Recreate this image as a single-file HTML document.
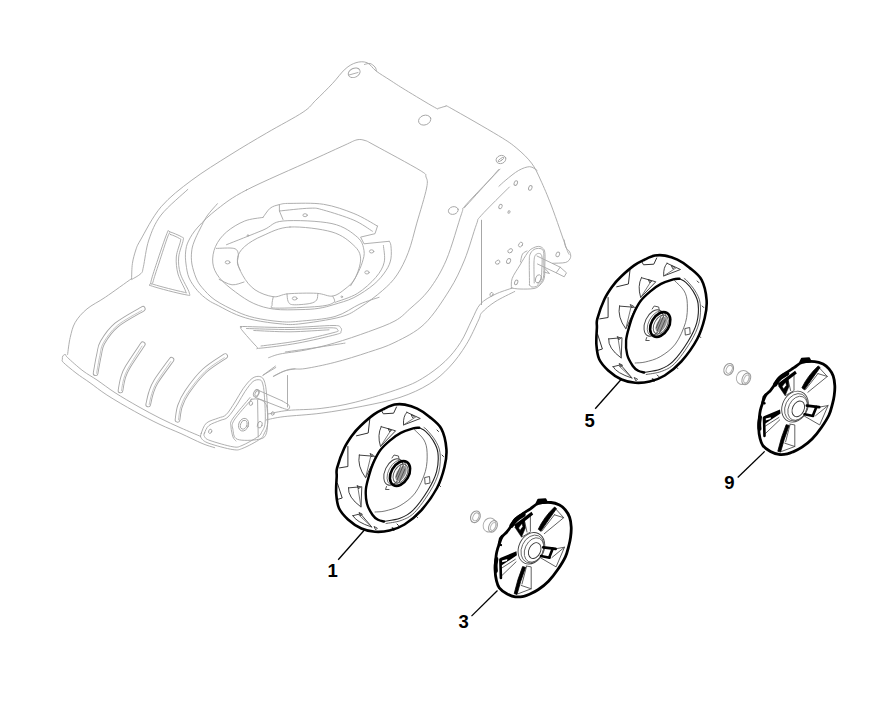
<!DOCTYPE html>
<html><head><meta charset="utf-8"><style>
html,body{margin:0;padding:0;background:#fff;width:876px;height:713px;overflow:hidden}
svg{display:block}
text{font-family:"Liberation Sans",sans-serif;font-weight:bold}
</style></head><body>
<svg width="876" height="713" viewBox="0 0 876 713">
<g fill="none" stroke="#a6a6a6" stroke-width="0.9" stroke-linecap="round" stroke-linejoin="round">
<path d="M131.6 278.6 C131.7 276.1 131.7 268.3 132.4 263.5 C133.1 258.7 134.5 253.9 135.8 250.0 C137.2 246.1 136.3 247.2 140.5 240.0 C144.7 232.8 152.5 216.8 161.1 206.8 C169.7 196.8 180.4 188.7 191.9 180.1 C203.4 171.5 217.6 162.8 230.0 155.0 C242.4 147.2 254.3 140.2 266.5 133.1 C278.7 125.9 294.9 117.6 303.1 112.1 C311.3 106.6 310.9 104.9 315.8 100.2 C320.7 95.5 327.4 88.9 332.3 83.7 C337.2 78.5 341.2 72.6 345.1 69.1 C349.1 65.6 352.4 63.8 356.0 62.7 C359.6 61.6 363.6 61.3 367.0 62.7 C370.4 64.1 372.3 68.1 376.1 71.0 C379.9 73.9 385.1 76.9 390.0 80.1 C394.9 83.3 398.1 85.5 405.5 90.0 C412.9 94.5 429.2 104.4 434.7 107.4 C440.2 110.5 436.6 108.5 438.4 108.3 C440.2 108.1 443.6 106.4 445.7 106.4 C447.8 106.4 442.3 103.4 451.1 108.3 C459.9 113.2 487.6 129.0 498.6 135.7 C509.6 142.4 511.4 143.8 516.9 148.4 C522.4 153.0 527.5 157.8 531.5 163.1 C535.5 168.4 537.3 172.8 540.6 180.0 C543.9 187.2 547.1 194.5 551.5 206.0 C555.9 217.5 563.8 241.0 566.7 249.0 C569.7 257.0 568.8 253.2 569.2 254.0"/>
<path d="M131.6 278.6 C127.2 281.7 112.9 292.1 105.5 297.1 C98.1 302.2 92.0 304.7 87.0 308.9 C82.0 313.1 78.0 317.6 75.2 322.4 C72.4 327.2 71.5 332.2 70.2 337.5 C68.9 342.8 68.0 351.6 67.6 354.4"/>
<path d="M187.8 189.4 C183.4 193.7 167.6 206.6 161.1 215.0 C154.6 223.4 151.8 231.4 148.8 240.0 C145.9 248.6 144.7 261.2 143.4 266.8 C142.1 272.4 142.9 271.5 140.9 273.6 C138.9 275.7 133.2 278.5 131.6 279.5"/>
<path d="M246.5 190.0 C262.3 181.8 295.8 167.5 312.2 160.0 C328.6 152.5 337.5 148.4 345.0 145.0 C352.5 141.6 353.7 140.6 357.0 139.8 C360.3 139.1 362.0 139.6 365.0 140.5 C368.0 141.4 365.8 140.5 375.0 145.5 C384.2 150.5 411.6 165.2 420.1 170.4 C428.6 175.7 424.9 174.1 426.0 177.0 C427.1 179.9 428.1 180.3 426.6 188.0 C425.1 195.7 419.9 212.4 416.8 223.1 C413.8 233.8 411.6 243.8 408.3 252.4 C405.0 261.0 401.3 268.5 397.0 274.9 C392.7 281.3 388.6 285.2 382.4 290.6 C376.2 296.0 367.0 303.0 360.0 307.4 C353.0 311.8 350.7 314.2 340.5 317.0 C330.3 319.8 308.8 322.9 298.7 324.0 C288.6 325.1 287.3 324.4 280.0 323.8 C272.7 323.2 262.1 321.7 254.8 320.2 C247.6 318.7 242.6 317.1 236.5 314.7 C230.4 312.3 223.1 308.1 218.3 305.6 C213.6 303.2 211.5 302.5 208.0 300.0 C204.5 297.5 200.7 294.4 197.5 290.7 C194.3 287.0 191.0 282.4 189.1 278.0 C187.2 273.6 186.6 268.3 186.0 264.0 C185.4 259.7 185.2 255.8 185.6 252.0 C186.0 248.2 186.4 245.2 188.5 241.0 C190.6 236.8 193.2 232.3 198.0 227.0 C202.8 221.7 209.3 215.2 217.4 209.0 C225.5 202.8 230.7 198.2 246.5 190.0Z"/>
<path d="M217.4 203.7 C215.7 205.8 209.9 211.8 207.0 216.0 C204.1 220.2 202.2 224.7 200.0 229.0 C197.8 233.3 195.4 238.2 194.0 242.0 C192.6 245.8 191.9 248.3 191.6 252.0 C191.2 255.7 191.2 259.7 191.9 264.0 C192.7 268.3 194.4 274.1 196.1 278.0 C197.8 281.9 198.8 283.8 202.0 287.5 C205.2 291.2 209.2 296.0 215.0 300.0 C220.8 304.0 229.9 308.5 236.5 311.5 C243.1 314.5 247.6 316.1 254.8 317.8 C262.1 319.5 272.7 321.0 280.0 321.6 C287.3 322.2 289.5 322.2 298.7 321.3 C307.9 320.4 324.8 319.4 335.0 316.5 C345.2 313.6 352.6 307.2 360.0 304.0 C367.4 300.8 375.9 298.4 379.1 297.3"/>
<path d="M263.0 217.4 C259.9 218.0 250.8 218.6 244.7 221.0 C238.6 223.4 231.4 227.8 226.5 232.0 C221.6 236.2 217.8 241.3 215.5 246.5 C213.2 251.7 212.2 257.8 212.8 263.0 C213.4 268.2 215.4 272.6 219.2 277.5 C223.0 282.4 229.8 287.8 235.6 292.1 C241.4 296.4 247.3 300.6 253.8 303.5 C260.3 306.4 266.7 308.2 274.4 309.2 C282.1 310.2 292.6 309.8 300.0 309.6 C307.4 309.5 313.2 309.2 318.9 308.3 C324.6 307.4 328.2 306.3 334.0 304.5 C339.8 302.7 347.2 301.0 353.9 297.6 C360.6 294.2 368.8 288.7 374.1 284.2 C379.4 279.7 383.1 274.9 385.9 270.7 C388.7 266.5 390.1 263.1 390.9 258.9 C391.7 254.7 391.2 248.4 390.9 245.5 C390.6 242.6 389.5 242.0 389.2 241.3"/>
<path d="M389.2 241.3 L364.0 243.8 L360.6 237.1 L375.0 233.7 L377.5 226.1"/>
<path d="M377.5 226.1 C373.6 224.0 362.9 217.1 353.9 213.5 C344.9 209.9 334.2 206.0 323.6 204.3 C313.0 202.6 297.4 203.4 290.0 203.4 C282.6 203.4 282.7 203.8 279.4 204.6 C276.1 205.4 272.9 206.1 270.2 208.2 C267.5 210.3 264.2 215.9 263.0 217.4"/>
<path d="M279.4 211.0 C284.5 210.5 302.6 208.3 310.0 208.2 C317.4 208.0 316.3 208.1 323.6 210.1 C330.9 212.1 345.8 216.7 353.9 220.2 C362.0 223.7 369.3 229.4 372.4 231.2"/>
<path d="M279.4 204.6 L279.4 211.0 L283.0 219.5"/>
<path d="M226.5 244.7 C232.6 242.3 253.6 234.0 263.0 230.1 C272.4 226.2 271.5 222.1 283.0 221.0 C294.5 219.9 319.6 220.9 332.0 223.6 C344.4 226.3 352.0 232.6 357.3 237.1 C362.6 241.6 363.2 246.3 364.0 250.5 C364.8 254.7 363.4 258.4 362.3 262.3 C361.2 266.2 359.2 270.2 357.3 274.1 C355.4 278.0 351.7 283.9 350.6 285.8"/>
<path d="M290.0 227.0 C278.5 227.6 270.6 232.3 263.0 235.6 C255.4 238.8 249.0 242.6 244.7 246.5 C240.4 250.4 237.7 254.4 237.4 259.3 C237.1 264.2 240.0 270.6 242.9 275.7 C245.8 280.8 249.9 286.3 255.0 289.8 C260.1 293.3 267.8 296.0 273.3 296.7 C278.8 297.4 280.9 294.4 288.1 293.8 C295.3 293.2 309.2 292.9 316.6 293.3 C324.0 293.7 327.9 296.8 332.6 296.1 C337.3 295.4 341.3 291.9 345.0 289.0 C348.7 286.1 352.4 283.4 355.0 278.4 C357.6 273.4 360.8 264.4 360.6 258.9 C360.4 253.4 358.7 250.0 353.9 245.5 C349.1 241.0 342.6 235.1 332.0 232.0 C321.4 228.9 301.5 226.4 290.0 227.0Z"/>
<path d="M383.4 245.5 C383.5 248.3 385.5 257.0 384.2 262.3 C382.9 267.6 380.3 272.2 375.8 277.4 C371.3 282.6 364.1 289.3 357.3 293.5 C350.5 297.7 338.6 300.9 334.9 302.4"/>
<path d="M273.3 296.7 C273.1 298.0 271.7 302.8 272.1 304.7 C272.5 306.6 267.7 307.8 275.5 308.1 C283.3 308.4 309.2 307.3 318.9 306.4 C328.6 305.4 331.5 304.1 333.8 302.4 C336.1 300.7 332.8 297.2 332.6 296.1"/>
<path d="M287.0 293.8 C287.2 295.1 287.2 299.5 288.1 301.3 C289.1 303.1 289.1 304.3 292.7 304.7 C296.3 305.1 305.8 304.3 309.8 303.5 C313.8 302.7 315.3 301.7 316.6 300.1 C317.9 298.5 317.6 294.9 317.8 293.8"/>
<path d="M216.4 248.4 C219.3 248.4 230.2 247.5 233.8 248.4 C237.5 249.3 237.7 251.4 238.3 253.8 C238.9 256.2 237.1 260.3 237.4 263.0 C237.7 265.7 239.7 269.0 240.2 270.2"/>
<path d="M219.2 279.4 C221.3 280.3 227.9 284.4 232.0 284.8 C236.1 285.2 242.0 282.5 244.0 282.0"/>
<ellipse cx="305.1" cy="215.2" rx="2.2" ry="1.5" transform="rotate(0.0 305.1 215.2)"/>
<ellipse cx="371.6" cy="251.4" rx="2.2" ry="1.6" transform="rotate(0.0 371.6 251.4)"/>
<ellipse cx="367.0" cy="272.4" rx="2.2" ry="1.6" transform="rotate(0.0 367.0 272.4)"/>
<ellipse cx="341.8" cy="296.8" rx="0.8" ry="0.8" transform="rotate(0.0 341.8 296.8)"/>
<ellipse cx="294.7" cy="298.4" rx="2.4" ry="1.6" transform="rotate(0.0 294.7 298.4)"/>
<ellipse cx="227.6" cy="262.3" rx="2.4" ry="1.6" transform="rotate(0.0 227.6 262.3)"/>
<ellipse cx="248.0" cy="235.5" rx="0.8" ry="0.8" transform="rotate(0.0 248.0 235.5)"/>
<path d="M500.0 169.1 C494.3 175.1 472.3 197.5 465.9 204.9 C459.5 212.3 465.0 204.1 461.7 213.3 C458.4 222.5 451.8 247.2 446.3 260.0 C440.8 272.8 435.0 281.8 428.9 290.0 C422.8 298.2 415.2 304.0 409.6 309.1 C404.0 314.2 401.9 317.1 395.0 320.9 C388.1 324.7 378.6 328.0 368.5 331.7 C358.4 335.4 344.8 340.0 334.2 343.1 C323.6 346.2 314.0 348.3 305.0 350.1 C296.0 351.9 286.1 352.7 280.0 354.0 C273.9 355.3 270.5 357.1 268.6 357.7"/>
<path d="M509.4 187.0 C504.7 191.7 486.8 209.2 481.3 215.4 C475.8 221.7 479.2 217.1 476.4 224.5 C473.6 231.9 469.0 249.1 464.5 260.0 C460.0 270.9 456.2 279.4 449.5 290.0 C442.8 300.6 433.6 315.2 424.5 323.9 C415.4 332.6 404.3 337.6 395.0 342.3 C385.7 347.0 378.6 348.8 368.5 352.2 C358.4 355.6 344.8 359.8 334.2 362.5 C323.6 365.2 312.6 367.4 305.0 368.6 C297.4 369.8 294.0 368.2 288.8 369.5 C283.6 370.8 276.2 375.1 273.7 376.2"/>
<path d="M262.8 375.4 L275.4 366.1"/>
<path d="M481.5 220.3 L481.5 304.5"/>
<ellipse cx="354.2" cy="72.8" rx="6.2" ry="4.5" transform="rotate(-25.0 354.2 72.8)"/>
<ellipse cx="424.7" cy="120.1" rx="6.3" ry="4.8" transform="rotate(-20.0 424.7 120.1)"/>
<path d="M349.0 75.0 L358.0 72.5"/>
<ellipse cx="453.3" cy="210.5" rx="5.0" ry="3.8" transform="rotate(-15.0 453.3 210.5)"/>
<ellipse cx="501.0" cy="159.5" rx="5.0" ry="4.0" transform="rotate(-20.0 501.0 159.5)"/>
<path d="M169.7 231.8 C172.1 232.4 179.2 235.4 181.5 236.8 C183.8 238.2 183.7 236.8 183.2 240.2 C182.7 243.6 179.2 251.4 178.7 257.0 C178.2 262.6 178.6 267.8 180.4 273.8 C182.2 279.8 188.6 289.4 189.3 292.9 C190.1 296.4 191.1 295.7 184.9 294.6 C178.7 293.5 158.0 288.2 152.3 286.2 C146.6 284.2 149.9 286.7 150.7 282.8 C151.4 278.9 154.1 270.8 156.8 262.6 C159.5 254.4 164.8 238.6 166.9 233.5 C169.1 228.4 167.3 231.2 169.7 231.8Z"/>
<path d="M170.5 234.5 C172.4 234.9 177.8 237.4 179.5 238.5 C181.2 239.6 181.0 237.9 180.5 241.0 C180.0 244.1 176.7 251.5 176.3 257.0 C175.9 262.5 176.5 268.3 178.0 274.0 C179.5 279.7 184.7 288.0 185.5 291.0 C186.3 294.0 188.2 293.1 183.0 292.0 C177.8 290.9 159.0 286.2 154.0 284.5 C149.0 282.8 152.2 285.6 153.0 282.0 C153.8 278.4 156.5 270.7 159.0 263.0 C161.5 255.3 166.1 240.8 168.0 236.0 C169.9 231.2 168.6 234.1 170.5 234.5Z"/>
<path d="M200.6 436.4 C197.3 435.0 187.8 431.0 181.0 428.0 C174.2 425.0 167.2 421.8 160.0 418.2 C152.8 414.6 145.5 410.6 138.0 406.4 C130.5 402.1 121.8 397.1 115.0 392.7 C108.2 388.3 102.3 383.6 97.0 380.0 C91.7 376.4 87.9 374.6 83.0 370.9 C78.1 367.2 70.5 360.3 67.6 357.6 C64.7 354.9 66.3 354.8 65.5 354.5 C64.7 354.2 63.3 355.2 62.8 356.0 C62.3 356.8 62.3 357.9 62.4 359.0 C62.5 360.1 61.1 360.2 63.4 362.5 C65.7 364.8 71.6 369.6 76.0 373.0 C80.4 376.4 84.8 379.1 90.0 382.8 C95.2 386.5 99.5 390.2 106.9 395.0 C114.3 399.8 125.7 406.4 134.5 411.3 C143.3 416.2 152.2 420.8 160.0 424.5 C167.8 428.2 174.0 430.5 181.0 433.6 C188.0 436.8 196.4 441.0 202.0 443.4 C207.6 445.8 212.6 447.0 214.7 447.7"/>
<path d="M268.0 414.0 C271.4 413.4 279.3 411.3 288.2 410.4 C297.1 409.5 309.9 409.8 321.1 408.4 C332.3 407.0 342.2 405.5 355.3 402.2 C368.4 398.9 388.8 392.5 400.0 388.5 C411.2 384.5 414.9 382.9 422.4 378.4 C429.9 373.9 438.5 367.5 444.9 361.5 C451.3 355.5 456.1 349.3 460.6 342.4 C465.1 335.5 468.5 326.4 471.8 320.0 C475.1 313.6 476.5 308.3 480.4 304.0 C484.3 299.7 489.7 297.1 495.0 294.4 C500.3 291.7 509.5 289.1 512.4 288.0"/>
<path d="M266.0 420.0 C269.0 419.4 274.9 417.7 284.1 416.6 C293.3 415.5 308.1 414.9 321.1 413.2 C334.1 411.5 349.1 408.9 362.2 406.3 C375.3 403.7 388.8 401.1 400.0 397.4 C411.2 393.7 421.0 389.1 429.2 384.0 C437.4 378.9 443.2 373.7 449.4 367.1 C455.6 360.6 461.3 352.6 466.2 344.7 C471.1 336.8 476.0 325.4 478.6 320.0 C481.2 314.6 479.3 315.5 482.0 312.5 C484.7 309.5 489.6 305.3 495.0 301.8 C500.4 298.3 511.4 293.2 514.7 291.5"/>
<path d="M201.3 433.2 C202.2 430.7 203.6 425.6 206.4 423.1 C209.2 420.6 215.1 419.4 218.4 418.0 C221.7 416.6 223.4 417.3 226.2 414.6 C229.0 411.9 232.2 406.3 235.0 402.0 C237.8 397.7 240.2 392.7 243.0 388.8 C245.8 384.9 249.2 380.6 252.0 378.5 C254.8 376.4 257.8 376.1 259.8 376.5 C261.9 376.9 263.2 378.0 264.3 381.0 C265.4 384.0 266.0 387.5 266.6 394.4 C267.2 401.3 268.1 415.8 267.7 422.4 C267.3 429.0 265.3 431.2 264.0 434.0 C262.7 436.8 263.3 436.9 259.8 439.3 C256.3 441.7 247.5 446.5 243.0 448.2 C238.5 449.9 238.6 450.4 232.9 449.6 C227.2 448.8 214.2 445.2 208.9 443.3 C203.6 441.4 202.6 439.9 201.3 438.2 C200.0 436.5 200.5 435.7 201.3 433.2Z"/>
<path d="M204.5 433.0 C205.2 431.2 206.4 427.6 209.0 425.5 C211.6 423.4 216.8 421.9 220.0 420.5 C223.2 419.1 225.1 419.8 228.0 417.0 C230.9 414.2 234.7 408.2 237.5 404.0 C240.3 399.8 242.4 395.2 245.0 391.5 C247.6 387.8 250.6 383.4 253.0 381.5 C255.4 379.6 257.9 379.6 259.5 379.8 C261.1 380.1 261.7 380.5 262.5 383.0 C263.3 385.5 263.9 388.5 264.3 395.0 C264.8 401.5 265.7 415.8 265.2 422.0 C264.7 428.2 262.8 430.0 261.5 432.5 C260.2 435.0 260.8 434.8 257.5 437.0 C254.2 439.2 246.1 443.9 242.0 445.5 C237.9 447.1 238.3 447.6 233.0 446.8 C227.7 446.0 214.8 442.2 210.0 440.5 C205.2 438.8 205.4 437.8 204.5 436.5 C203.6 435.2 203.8 434.8 204.5 433.0Z"/>
<path d="M250.9 400.0 C251.7 399.8 253.4 398.7 255.4 398.9 C257.4 399.1 261.2 399.4 263.2 401.1 C265.2 402.8 266.6 403.8 267.2 409.0 C267.8 414.2 268.0 427.4 266.6 432.5 C265.2 437.6 263.6 438.2 258.7 439.3 C253.8 440.4 241.7 441.0 237.4 439.3 C233.1 437.6 233.5 432.4 232.9 429.2 C232.3 426.0 231.1 425.1 234.1 420.2 C237.1 415.3 248.1 403.4 250.9 400.0 C253.7 396.6 250.2 400.2 250.9 400.0Z"/>
<path d="M236.0 441.0 C235.5 440.3 233.8 439.3 233.0 437.0 C232.2 434.7 231.1 430.0 231.0 427.0 C230.9 424.0 229.3 423.9 232.5 419.0 C235.7 414.1 247.1 401.1 250.0 397.5"/>
<ellipse cx="243.6" cy="424.7" rx="4.9" ry="6.5" transform="rotate(20.0 243.6 424.7)"/>
<ellipse cx="243.8" cy="424.7" rx="3.2" ry="4.6" transform="rotate(20.0 243.8 424.7)"/>
<ellipse cx="210.2" cy="431.3" rx="1.5" ry="2.2" transform="rotate(20.0 210.2 431.3)"/>
<ellipse cx="250.9" cy="403.4" rx="1.6" ry="2.1" transform="rotate(20.0 250.9 403.4)"/>
<ellipse cx="259.8" cy="424.7" rx="2.3" ry="3.4" transform="rotate(20.0 259.8 424.7)"/>
<ellipse cx="272.7" cy="413.5" rx="1.4" ry="1.8" transform="rotate(20.0 272.7 413.5)"/>
<path d="M257.6 400.0 L258.2 437.0"/>
<path d="M256.5 389.5 L282.0 400.8"/>
<path d="M255.5 397.5 L281.0 407.5"/>
<path d="M281.0 407.5 C282.2 407.8 286.6 409.8 288.0 409.5 C289.4 409.2 290.2 406.9 289.2 405.5 C288.2 404.1 283.2 401.6 282.0 400.8"/>
<ellipse cx="256.3" cy="393.3" rx="2.6" ry="4.0" transform="rotate(25.0 256.3 393.3)"/>
<ellipse cx="256.8" cy="393.5" rx="1.6" ry="2.8" transform="rotate(25.0 256.8 393.5)"/>
<path d="M287.5 375.5 L287.5 407.0"/>
<path d="M195.0 380.2 L213.9 365.0"/>
<path d="M263.2 375.1 L275.8 367.5"/>
<path d="M273.3 376.4 C275.0 375.5 279.8 372.6 283.4 371.3 C287.0 370.0 293.1 369.2 295.0 368.8"/>
<path d="M511.4 288.0 C511.5 286.4 510.8 282.2 512.2 278.4 C513.6 274.6 517.5 269.2 520.0 265.0 C522.5 260.8 525.4 255.8 527.4 253.0 C529.4 250.2 530.3 249.6 532.2 248.5 C534.1 247.4 536.7 246.3 538.6 246.4 C540.5 246.5 542.3 247.5 543.4 248.8 C544.5 250.1 544.8 251.5 545.0 254.4 C545.2 257.3 544.9 262.0 544.8 266.0 C544.7 270.0 545.0 275.2 544.2 278.4 C543.4 281.6 541.7 283.3 540.0 285.0 C538.3 286.7 537.3 287.8 534.0 288.5 C530.7 289.2 523.8 289.1 520.0 289.0 C516.2 288.9 512.8 288.2 511.4 288.0"/>
<path d="M520.5 262.0 C520.8 260.7 521.4 255.8 522.5 254.0 C523.6 252.2 526.2 251.5 527.0 251.0"/>
<path d="M529.5 285.0 C529.5 281.2 529.2 267.1 529.3 262.0 C529.4 256.9 529.2 256.6 530.0 254.5 C530.8 252.4 532.3 250.5 534.0 249.5 C535.7 248.5 538.4 248.2 540.0 248.5 C541.6 248.8 542.9 249.2 543.5 251.5 C544.1 253.8 543.8 257.6 543.8 262.0 C543.8 266.4 544.3 274.1 543.3 278.0 C542.3 281.9 539.9 284.0 538.0 285.5 C536.1 287.0 533.4 287.1 532.0 287.0 C530.6 286.9 529.9 285.3 529.5 285.0"/>
<path d="M534.2 283.0 C534.2 279.5 533.8 266.7 534.0 262.0 C534.2 257.3 534.6 256.4 535.5 255.0 C536.4 253.6 538.4 253.2 539.5 253.5 C540.6 253.8 541.6 254.2 542.0 257.0 C542.4 259.8 542.0 266.2 541.8 270.0 C541.6 273.8 541.7 277.7 541.0 280.0 C540.3 282.3 538.1 283.3 537.5 284.0"/>
<ellipse cx="538.2" cy="278.8" rx="2.6" ry="4.2" transform="rotate(20.0 538.2 278.8)"/>
<ellipse cx="516.2" cy="282.4" rx="1.5" ry="2.4" transform="rotate(25.0 516.2 282.4)"/>
<path d="M537.0 256.0 L560.2 267.2"/>
<path d="M537.5 264.0 L556.2 272.8"/>
<path d="M560.2 267.2 L566.5 272.8 L564.2 276.8 L556.2 272.8 L560.2 267.2"/>
<path d="M545.2 268.8 L549.5 273.5 L543.8 272.0"/>
<path d="M564.2 240.0 C564.5 241.2 564.9 245.2 565.8 247.2 C566.7 249.2 568.9 250.3 569.7 252.0 C570.5 253.7 571.1 255.9 570.5 257.6 C569.9 259.3 568.8 261.4 565.8 262.4 C562.8 263.3 554.7 263.1 552.5 263.3"/>
<ellipse cx="557.8" cy="254.4" rx="1.7" ry="2.4" transform="rotate(25.0 557.8 254.4)"/>
<ellipse cx="491.5" cy="294.4" rx="1.5" ry="2.0" transform="rotate(20.0 491.5 294.4)"/>
<path d="M498.6 169.5 C497.1 171.2 495.2 173.6 489.5 180.0 C483.8 186.4 468.4 203.3 464.2 208.0"/>
<path d="M537.0 170.4 C535.8 169.8 532.8 166.7 529.7 166.7 C526.7 166.7 522.7 168.2 518.7 170.4 C514.7 172.6 509.2 177.3 505.9 180.0 C502.6 182.7 500.1 185.2 498.9 186.3"/>
<path d="M481.5 220.3 L481.5 304.5"/>
<ellipse cx="515.8" cy="183.1" rx="1.6" ry="2.4" transform="rotate(25.0 515.8 183.1)"/>
<ellipse cx="530.3" cy="187.9" rx="1.6" ry="2.4" transform="rotate(25.0 530.3 187.9)"/>
<ellipse cx="500.5" cy="206.5" rx="1.6" ry="2.2" transform="rotate(25.0 500.5 206.5)"/>
<ellipse cx="509.0" cy="212.0" rx="1.0" ry="1.3" transform="rotate(25.0 509.0 212.0)"/>
<ellipse cx="520.6" cy="244.6" rx="1.8" ry="2.6" transform="rotate(35.0 520.6 244.6)"/>
<ellipse cx="510.2" cy="250.8" rx="1.8" ry="2.6" transform="rotate(55.0 510.2 250.8)"/>
<ellipse cx="497.7" cy="262.2" rx="1.8" ry="2.4" transform="rotate(55.0 497.7 262.2)"/>
<ellipse cx="508.6" cy="261.0" rx="1.8" ry="2.6" transform="rotate(30.0 508.6 261.0)"/>
<path d="M244.0 326.5 C252.0 326.6 275.2 327.7 290.0 327.5 C304.8 327.3 324.6 325.5 333.0 325.5 C341.4 325.5 339.2 326.5 340.5 327.5 C341.8 328.5 341.8 330.3 341.0 331.5 C340.2 332.7 343.2 332.6 336.0 334.5 C328.8 336.4 310.4 340.8 297.8 343.1 C285.2 345.4 267.0 347.6 260.1 348.2 C253.2 348.8 259.6 349.6 256.5 346.5 C253.4 343.4 243.9 332.7 241.5 329.5 C239.1 326.3 241.4 327.7 241.8 327.2 C242.2 326.7 236.0 326.4 244.0 326.5Z"/>
<path d="M246.5 328.5 C253.8 328.7 275.9 329.6 290.0 329.5 C304.1 329.4 323.1 327.7 331.0 327.8 C338.9 327.9 337.0 329.2 337.5 330.0 C338.0 330.8 340.8 330.7 334.0 332.5 C327.2 334.3 309.2 338.8 297.0 341.0 C284.8 343.2 267.0 345.2 261.0 346.0"/>
<path d="M253.8 330.5 C259.8 330.7 277.5 331.9 290.0 331.8 C302.5 331.7 322.5 330.1 329.0 329.8"/>
<path d="M285.3 352.0 C291.1 351.2 310.1 348.5 320.0 347.0 C329.9 345.5 340.8 343.8 345.0 343.1"/>
<path d="M364.5 64.5 C365.4 64.3 368.2 63.1 370.0 63.5 C371.8 63.9 373.9 65.8 375.0 67.0 C376.1 68.2 376.2 70.3 376.5 71.0"/>
<ellipse cx="501.0" cy="159.5" rx="1.0" ry="3.5" transform="rotate(55.0 501.0 159.5)"/>
</g>
<path d="M95.6 373.2 C96.2 370.2 97.8 360.1 99.0 355.0 C100.2 349.9 99.6 347.5 102.5 342.5 C105.4 337.5 109.8 330.6 116.5 325.0 C123.2 319.4 138.4 311.5 142.8 308.8" fill="none" stroke="#a6a6a6" stroke-width="5.6" stroke-linecap="round"/>
<path d="M95.6 373.2 C96.2 370.2 97.8 360.1 99.0 355.0 C100.2 349.9 99.6 347.5 102.5 342.5 C105.4 337.5 109.8 330.6 116.5 325.0 C123.2 319.4 138.4 311.5 142.8 308.8" fill="none" stroke="#fff" stroke-width="3.8" stroke-linecap="round"/>
<path d="M95.6 373.2 C96.2 370.2 97.8 360.1 99.0 355.0 C100.2 349.9 99.6 347.5 102.5 342.5 C105.4 337.5 110.0 330.4 116.5 325.0 C123.0 319.6 137.2 312.3 141.3 309.8" fill="none" stroke="#b8b8b8" stroke-width="0.8" transform="translate(0.9 0.4)"/>
<path d="M120.5 390.5 C120.9 388.4 121.8 381.8 123.0 378.0 C124.2 374.2 124.2 373.1 127.5 367.5 C130.8 361.9 140.2 348.2 142.8 344.3" fill="none" stroke="#a6a6a6" stroke-width="5.6" stroke-linecap="round"/>
<path d="M120.5 390.5 C120.9 388.4 121.8 381.8 123.0 378.0 C124.2 374.2 124.2 373.1 127.5 367.5 C130.8 361.9 140.2 348.2 142.8 344.3" fill="none" stroke="#fff" stroke-width="3.8" stroke-linecap="round"/>
<path d="M120.5 390.5 C120.9 388.4 121.8 381.8 123.0 378.0 C124.2 374.2 124.5 372.9 127.5 367.5 C130.6 362.1 139.0 349.0 141.3 345.3" fill="none" stroke="#b8b8b8" stroke-width="0.8" transform="translate(0.9 0.4)"/>
<path d="M148.2 404.5 C148.7 402.6 149.7 396.8 151.0 393.0 C152.3 389.2 152.6 387.0 156.0 381.5 C159.4 376.0 168.9 363.4 171.5 359.8" fill="none" stroke="#a6a6a6" stroke-width="5.6" stroke-linecap="round"/>
<path d="M148.2 404.5 C148.7 402.6 149.7 396.8 151.0 393.0 C152.3 389.2 152.6 387.0 156.0 381.5 C159.4 376.0 168.9 363.4 171.5 359.8" fill="none" stroke="#fff" stroke-width="3.8" stroke-linecap="round"/>
<path d="M148.2 404.5 C148.7 402.6 149.7 396.8 151.0 393.0 C152.3 389.2 152.8 386.9 156.0 381.5 C159.2 376.1 167.7 364.2 170.0 360.8" fill="none" stroke="#b8b8b8" stroke-width="0.8" transform="translate(0.9 0.4)"/>
<path d="M177.5 419.8 C177.9 417.5 178.4 410.6 180.0 406.0 C181.6 401.4 183.0 397.8 187.0 392.0 C191.0 386.2 197.8 377.0 204.2 371.0 C210.6 365.0 221.7 358.6 225.2 356.1" fill="none" stroke="#a6a6a6" stroke-width="5.6" stroke-linecap="round"/>
<path d="M177.5 419.8 C177.9 417.5 178.4 410.6 180.0 406.0 C181.6 401.4 183.0 397.8 187.0 392.0 C191.0 386.2 197.8 377.0 204.2 371.0 C210.6 365.0 221.7 358.6 225.2 356.1" fill="none" stroke="#fff" stroke-width="3.8" stroke-linecap="round"/>
<path d="M177.5 419.8 C177.9 417.5 178.4 410.6 180.0 406.0 C181.6 401.4 183.0 397.8 187.0 392.0 C191.0 386.2 198.1 376.8 204.2 371.0 C210.3 365.2 220.4 359.4 223.7 357.1" fill="none" stroke="#b8b8b8" stroke-width="0.8" transform="translate(0.9 0.4)"/><g id="w1">
<path d="M419.2 427.7 C420.3 428.3 423.3 429.2 425.6 431.3 C427.9 433.4 430.8 436.4 432.8 440.0 C434.9 443.6 437.3 447.3 437.9 452.6 C438.5 457.9 438.3 465.3 436.6 471.6 C434.9 477.9 431.8 484.0 427.8 490.5 C423.8 497.0 417.2 506.1 412.6 510.7 C408.0 515.3 404.8 516.5 400.0 518.3 C395.2 520.1 386.7 521.0 384.0 521.5" fill="none" stroke="#222" stroke-width="1.1" stroke-linecap="round" stroke-linejoin="round" />
<path d="M424.0 427.5 C424.5 427.9 425.2 427.9 427.0 430.0 C428.8 432.1 432.8 436.2 435.0 440.0 C437.2 443.8 439.4 447.3 440.0 452.6 C440.6 457.9 440.5 465.5 438.8 472.0 C437.1 478.5 434.1 484.8 430.0 491.5 C425.9 498.2 419.3 507.7 414.5 512.5 C409.7 517.3 405.8 518.7 401.0 520.5 C396.2 522.3 388.5 523.0 386.0 523.5" fill="none" stroke="#555" stroke-width="0.9" stroke-linecap="round" stroke-linejoin="round" />
<path d="M414.4 429.7 C416.0 431.4 421.9 436.2 424.0 440.0 C426.1 443.8 426.9 447.3 427.1 452.6 C427.3 457.9 427.3 464.9 425.3 471.6 C423.3 478.3 419.4 487.3 415.2 493.0 C411.0 498.7 405.0 502.7 400.0 505.7 C395.0 508.7 389.2 509.9 385.0 511.0 C380.8 512.0 376.7 511.8 375.0 512.0" fill="none" stroke="#555" stroke-width="0.8" stroke-linecap="round" stroke-linejoin="round" />
<path d="M425 477.5 l4.5 -1 l0.5 6.5 l-4.5 1z" fill="none" stroke="#444" stroke-width="0.9" stroke-linecap="round" stroke-linejoin="round" />
<path d="M437.0 430.0 l1.5 1.5" fill="none" stroke="#333" stroke-width="1.0" stroke-linecap="round" stroke-linejoin="round" />
<path d="M442.0 455.0 l1.5 1.5" fill="none" stroke="#333" stroke-width="1.0" stroke-linecap="round" stroke-linejoin="round" />
<path d="M439.0 485.0 l1.5 1.5" fill="none" stroke="#333" stroke-width="1.0" stroke-linecap="round" stroke-linejoin="round" />
<path d="M416.0 516.0 l1.5 1.5" fill="none" stroke="#333" stroke-width="1.0" stroke-linecap="round" stroke-linejoin="round" />
<path d="M397.0 524.0 l1.5 1.5" fill="none" stroke="#333" stroke-width="1.0" stroke-linecap="round" stroke-linejoin="round" />
<path d="M381.5 410.5 L383.3 413.8 L393.6 413.2 L396.5 407.0" fill="none" stroke="#333" stroke-width="1.0" stroke-linecap="round" stroke-linejoin="round" />
<path d="M369.8 419.0 L368.2 433.0 L356.5 435.8" fill="none" stroke="#333" stroke-width="1.0" stroke-linecap="round" stroke-linejoin="round" />
<path d="M347.9 446.5 L347.9 466.5 L339.5 467.9" fill="none" stroke="#333" stroke-width="1.0" stroke-linecap="round" stroke-linejoin="round" />
<path d="M337.5 483.5 L342.2 498.0 L337.2 499.5" fill="none" stroke="#333" stroke-width="1.0" stroke-linecap="round" stroke-linejoin="round" />
<path d="M406.9 412.3 L420.3 418.5 L403.5 425.0 Q403.0 416.0 406.9 412.3Z" fill="none" stroke="#444" stroke-width="1.0" stroke-linecap="round" stroke-linejoin="round" />
<path d="M416.3 416.6 L403.5 425.0" fill="none" stroke="#555" stroke-width="0.8" stroke-linecap="round" stroke-linejoin="round" />
<path d="M381.2 426.7 L395.6 430.8 L380.5 446.5 Q377.0 435.0 381.2 426.7Z" fill="none" stroke="#444" stroke-width="1.0" stroke-linecap="round" stroke-linejoin="round" />
<path d="M391.3 429.6 L380.5 446.5" fill="none" stroke="#555" stroke-width="0.8" stroke-linecap="round" stroke-linejoin="round" />
<path d="M359.3 455.1 L375.7 456.4 L365.6 477.8 Q357.0 466.0 359.3 455.1Z" fill="none" stroke="#444" stroke-width="1.0" stroke-linecap="round" stroke-linejoin="round" />
<path d="M370.8 456.0 L365.6 477.8" fill="none" stroke="#555" stroke-width="0.8" stroke-linecap="round" stroke-linejoin="round" />
<path d="M348.5 487.9 L361.8 486.7 L361.0 507.0 Q347.5 497.0 348.5 487.9Z" fill="none" stroke="#444" stroke-width="1.0" stroke-linecap="round" stroke-linejoin="round" />
<path d="M357.8 487.1 L361.0 507.0" fill="none" stroke="#555" stroke-width="0.8" stroke-linecap="round" stroke-linejoin="round" />
<path d="M352.9 515.7 L360.5 513.8 L371.9 527.1 Q356.0 522.0 352.9 515.7Z" fill="none" stroke="#444" stroke-width="1.0" stroke-linecap="round" stroke-linejoin="round" />
<path d="M358.2 514.4 L371.9 527.1" fill="none" stroke="#555" stroke-width="0.8" stroke-linecap="round" stroke-linejoin="round" />
<path d="M414.0 416.0 l-3 -1.5 l1.5 3 z" fill="none" stroke="#333" stroke-width="0.9" stroke-linecap="round" stroke-linejoin="round" />
<path d="M391.0 430.0 l-3 -1.5 l1.5 3 z" fill="none" stroke="#333" stroke-width="0.9" stroke-linecap="round" stroke-linejoin="round" />
<path d="M373.0 455.0 l-3 -1.5 l1.5 3 z" fill="none" stroke="#333" stroke-width="0.9" stroke-linecap="round" stroke-linejoin="round" />
<path d="M360.0 487.0 l-3 -1.5 l1.5 3 z" fill="none" stroke="#333" stroke-width="0.9" stroke-linecap="round" stroke-linejoin="round" />
<path d="M362.0 514.0 l-3 -1.5 l1.5 3 z" fill="none" stroke="#333" stroke-width="0.9" stroke-linecap="round" stroke-linejoin="round" />
<path d="M377.0 528.0 l-3 -1.5 l1.5 3 z" fill="none" stroke="#333" stroke-width="0.9" stroke-linecap="round" stroke-linejoin="round" />
<path d="M395.0 529.0 l-3 -1.5 l1.5 3 z" fill="none" stroke="#333" stroke-width="0.9" stroke-linecap="round" stroke-linejoin="round" />
<ellipse cx="393.5" cy="472.0" rx="8.5" ry="14.0" transform="rotate(25.0 393.5 472.0)" fill="none" stroke="#444" stroke-width="1.0"/>
<ellipse cx="396.5" cy="472.5" rx="8.0" ry="13.5" transform="rotate(28.0 396.5 472.5)" fill="none" stroke="#666" stroke-width="0.8"/>
<path d="M392 458 L394 455 L398.5 456 L399 459" fill="none" stroke="#444" stroke-width="0.9" stroke-linecap="round" stroke-linejoin="round" />
<path d="M386.5 486.5 L385.5 489.5 L389 489.5" fill="none" stroke="#444" stroke-width="0.9" stroke-linecap="round" stroke-linejoin="round" />
<ellipse cx="401.0" cy="473.5" rx="4.5" ry="8.5" transform="rotate(30.0 401.0 473.5)" fill="#999" stroke="none" stroke-width="0"/>
<ellipse cx="400.5" cy="473.5" rx="6.3" ry="10.3" transform="rotate(30.0 400.5 473.5)" fill="none" stroke="#555" stroke-width="0.9"/>
<path d="M397 480 L403 466 M399.5 481.5 L405 469 M396 477 L401 465" fill="none" stroke="#333" stroke-width="0.7" stroke-linecap="round" stroke-linejoin="round" />
<ellipse cx="400.0" cy="473.5" rx="8.8" ry="13.3" transform="rotate(30.0 400.0 473.5)" fill="none" stroke="#000" stroke-width="2.6"/>
<path d="M394.6 404.6 C398.0 403.9 401.1 403.9 404.9 404.6 C408.7 405.3 413.2 406.7 417.2 408.7 C421.2 410.7 425.0 413.0 429.0 416.4 C433.0 419.8 438.5 423.4 441.4 428.8 C444.3 434.2 445.9 442.6 446.4 449.0 C446.9 455.4 446.1 460.5 444.5 467.0 C442.9 473.5 440.9 480.7 437.0 488.0 C433.1 495.3 426.4 504.6 421.0 510.7 C415.6 516.8 409.8 521.2 404.5 524.5 C399.2 527.8 394.4 529.4 389.5 530.6 C384.6 531.8 379.6 532.1 374.9 531.8 C370.2 531.4 365.9 530.5 361.4 528.5 C356.9 526.5 351.7 522.9 348.0 519.5 C344.3 516.1 341.0 512.6 339.0 508.3 C337.0 504.0 336.6 498.9 336.2 493.7 C335.8 488.4 336.5 481.1 336.7 476.8 C336.9 472.5 335.9 472.6 337.1 467.8 C338.4 463.1 341.6 453.8 344.2 448.3 C346.8 442.8 349.8 438.7 352.5 434.9 C355.2 431.1 357.1 429.1 360.7 425.7 C364.3 422.3 370.1 417.2 374.0 414.4 C377.9 411.6 380.9 410.3 384.3 408.7 C387.7 407.1 391.2 405.3 394.6 404.6Z" fill="none" stroke="#000" stroke-width="2.6" stroke-linecap="round" stroke-linejoin="round" />
<path d="M419.2 427.7 C418.2 427.8 416.2 427.4 413.1 428.3 C410.0 429.2 404.6 430.9 400.8 432.9 C397.0 434.9 393.9 437.2 390.5 440.1 C387.1 443.0 383.1 446.4 380.2 450.3 C377.3 454.2 374.8 459.6 373.0 463.7 C371.2 467.8 370.5 470.4 369.3 474.6 C368.1 478.9 366.3 484.3 365.9 489.2 C365.5 494.1 365.9 499.5 367.0 503.8 C368.1 508.1 370.8 512.3 372.6 515.0 C374.4 517.7 376.1 518.7 378.0 519.8 C379.9 520.9 383.0 521.2 384.0 521.5" fill="none" stroke="#000" stroke-width="2.4" stroke-linecap="round" stroke-linejoin="round" />
</g>
<use href="#w1" transform="translate(260.2 -149)"/><g id="h1">
<ellipse cx="531.4" cy="548.3" rx="12.6" ry="16.3" transform="rotate(25.0 531.4 548.3)" fill="none" stroke="#444" stroke-width="0.9"/>
<ellipse cx="532.5" cy="549.0" rx="10.8" ry="14.5" transform="rotate(25.0 532.5 549.0)" fill="none" stroke="#555" stroke-width="0.8"/>
<ellipse cx="534.0" cy="550.0" rx="9.0" ry="12.8" transform="rotate(25.0 534.0 550.0)" fill="none" stroke="#555" stroke-width="0.8"/>
<ellipse cx="534.7" cy="550.6" rx="5.8" ry="8.3" transform="rotate(25.0 534.7 550.6)" fill="none" stroke="#333" stroke-width="0.9"/>
<path d="M555.3 508.5 L563.7 517.7 L544.3 533.7" fill="none" stroke="#444" stroke-width="0.85" stroke-linecap="round" stroke-linejoin="round" />
<path d="M554.4 514.8 L563.7 517.7" fill="none" stroke="#444" stroke-width="0.85" stroke-linecap="round" stroke-linejoin="round" />
<path d="M554.4 514.8 L541.8 531.2" fill="none" stroke="#444" stroke-width="0.85" stroke-linecap="round" stroke-linejoin="round" />
<path d="M526.2 566.0 L531.2 566.9 L531.2 588.8 L518.0 593.8" fill="none" stroke="#444" stroke-width="0.85" stroke-linecap="round" stroke-linejoin="round" />
<path d="M521.1 585.4 L531.2 588.8" fill="none" stroke="#444" stroke-width="0.85" stroke-linecap="round" stroke-linejoin="round" />
<path d="M526.5 566.5 L522.0 584.0" fill="none" stroke="#444" stroke-width="0.85" stroke-linecap="round" stroke-linejoin="round" />
<path d="M555.6 548.8 L564.5 547.2 L556.1 566.9 L540.9 558.0" fill="none" stroke="#444" stroke-width="0.85" stroke-linecap="round" stroke-linejoin="round" />
<path d="M552.0 557.5 L564.5 547.2" fill="none" stroke="#444" stroke-width="0.85" stroke-linecap="round" stroke-linejoin="round" />
<path d="M500.9 568.6 L515.3 559.3" fill="none" stroke="#444" stroke-width="0.85" stroke-linecap="round" stroke-linejoin="round" />
<path d="M500.9 576.5 L516.1 561.8" fill="none" stroke="#444" stroke-width="0.85" stroke-linecap="round" stroke-linejoin="round" />
<path d="M524.5 521.0 L527.0 532.0" fill="none" stroke="#444" stroke-width="0.85" stroke-linecap="round" stroke-linejoin="round" />
<path d="M530.4 515.2 L530.4 531.1" fill="none" stroke="#444" stroke-width="0.85" stroke-linecap="round" stroke-linejoin="round" />
<path d="M522.0 537.0 L530.4 532.0" fill="none" stroke="#444" stroke-width="0.85" stroke-linecap="round" stroke-linejoin="round" />
<path d="M538.3 529.2 Q544 517 554.6 507 L556.5 508.6 Q548.5 520 540.8 531.2Z" fill="#000" stroke="#000" stroke-width="0.8" stroke-linejoin="round"/>
<path d="M522.6 566.6 L525.6 567.4 Q520 582 517 594.5 L514.2 593.6 Q517.5 579 522.6 566.6Z" fill="#000" stroke="#000" stroke-width="0.8" stroke-linejoin="round"/>
<path d="M543.3 547.4 L555.6 548.9" fill="none" stroke="#000" stroke-width="2.8" stroke-linecap="round" stroke-linejoin="round" />
<path d="M552.8 548.6 L549.3 557.3" fill="none" stroke="#000" stroke-width="2.6" stroke-linecap="round" stroke-linejoin="round" />
<path d="M541.0 556.0 L549.5 557.8" fill="none" stroke="#000" stroke-width="2.6" stroke-linecap="round" stroke-linejoin="round" />
<path d="M500.2 558 L516.4 551.3 L516.9 555.2 L500.7 566.1Z M502.1 560.4 L507.4 559 L506.9 560.9 L502.1 562.3Z" fill="#000" fill-rule="evenodd"/>
<path d="M500.4 559.6 L500.9 578.0" fill="none" stroke="#000" stroke-width="2.6" stroke-linecap="round" stroke-linejoin="round" />
<path d="M514 525 L531.5 511.8 L533.2 514.6 L516.2 528Z" fill="#000"/>
<path d="M514.8 527.1 L524.3 519.9 L525.3 528 L521.5 537.1Z M518.6 528 L521.9 523.3 L522.9 526.6 L520 530.4Z" fill="#000" fill-rule="evenodd" stroke="#000" stroke-width="0.6" stroke-linejoin="round"/>
<path d="M538.4 503.5 C541.8 502.4 547.5 502.2 551.0 502.5 C554.5 502.8 557.1 503.9 559.5 505.1 C561.9 506.4 563.7 508.0 565.4 510.0 C567.1 512.0 568.6 514.5 569.6 517.3 C570.6 520.1 571.0 523.7 571.2 527.0 C571.4 530.3 571.0 534.1 570.6 537.1 C570.2 540.1 569.9 541.7 569.0 545.0 C568.1 548.3 567.3 552.7 565.4 556.8 C563.5 560.9 560.6 565.4 557.8 569.5 C555.0 573.6 551.7 577.9 548.5 581.2 C545.3 584.5 541.5 587.4 538.4 589.5 C535.3 591.6 532.5 592.9 530.0 594.0 C527.5 595.1 526.2 595.8 523.7 596.3 C521.2 596.8 518.1 597.2 515.3 596.8 C512.5 596.4 509.5 595.3 506.8 593.8 C504.1 592.3 501.0 590.1 499.3 587.9 C497.6 585.7 497.1 583.3 496.4 580.4 C495.7 577.5 495.2 573.7 495.1 570.3 C495.0 566.9 495.4 563.2 495.7 560.2 C496.0 557.2 496.1 554.9 496.7 552.2 C497.3 549.5 498.4 546.3 499.3 543.8 C500.2 541.3 500.8 539.0 502.0 537.0 C503.2 535.0 505.3 533.8 506.8 532.0 C508.3 530.2 509.6 528.3 511.0 526.2 C512.4 524.1 513.5 521.3 515.3 519.3 C517.1 517.3 519.5 516.0 522.0 514.3 C524.5 512.5 527.7 510.6 530.4 508.8 C533.1 507.0 535.0 504.6 538.4 503.5Z" fill="none" stroke="#000" stroke-width="2.8" stroke-linecap="round" stroke-linejoin="round" />
<path d="M536.5 503.5 L538.2 499.8 L545.5 499.3 L547 502.5Z" fill="#000" stroke="#000" stroke-width="2" stroke-linejoin="round"/>
<path d="M502.0 536.0 L500.0 538.5 L498.8 544.2 L501.0 545.0" fill="none" stroke="#000" stroke-width="2.2" stroke-linecap="round" stroke-linejoin="round" />
<path d="M511.5 525.8 C512.2 524.8 514.0 521.7 516.0 519.8 C518.0 517.9 522.2 515.5 523.5 514.6" fill="none" stroke="#000" stroke-width="4.4" stroke-linecap="round" stroke-linejoin="round" />
<path d="M496.5 559.0 C496.4 560.0 495.8 563.0 495.7 565.0 C495.6 567.0 495.9 570.0 496.0 571.0" fill="none" stroke="#000" stroke-width="3.8" stroke-linecap="round" stroke-linejoin="round" />
</g>
<use href="#h1" transform="translate(263.6 -142.4) translate(0 596) scale(1 0.985) translate(0 -596)"/>
<ellipse cx="475.4" cy="516.8" rx="4.6" ry="6.0" transform="rotate(25.0 475.4 516.8)" fill="none" stroke="#999" stroke-width="1.1"/>
<ellipse cx="475.9" cy="516.8" rx="2.8" ry="4.2" transform="rotate(25.0 475.9 516.8)" fill="none" stroke="#aaa" stroke-width="0.9"/>
<ellipse cx="489.5" cy="525.0" rx="6.2" ry="7.2" transform="rotate(25.0 489.5 525.0)" fill="none" stroke="#aaa" stroke-width="0.9"/>
<ellipse cx="493.0" cy="526.3" rx="4.0" ry="6.2" transform="rotate(25.0 493.0 526.3)" fill="none" stroke="#999" stroke-width="1.0"/>
<ellipse cx="493.3" cy="526.5" rx="2.5" ry="4.2" transform="rotate(25.0 493.3 526.5)" fill="none" stroke="#bbb" stroke-width="1.0"/>
<ellipse cx="728.7" cy="369.3" rx="4.6" ry="6.0" transform="rotate(25.0 728.7 369.3)" fill="none" stroke="#999" stroke-width="1.1"/>
<ellipse cx="729.2" cy="369.3" rx="2.8" ry="4.2" transform="rotate(25.0 729.2 369.3)" fill="none" stroke="#aaa" stroke-width="0.9"/>
<ellipse cx="742.8" cy="377.5" rx="6.2" ry="7.2" transform="rotate(25.0 742.8 377.5)" fill="none" stroke="#aaa" stroke-width="0.9"/>
<ellipse cx="746.3" cy="378.8" rx="4.0" ry="6.2" transform="rotate(25.0 746.3 378.8)" fill="none" stroke="#999" stroke-width="1.0"/>
<ellipse cx="746.6" cy="379.0" rx="2.5" ry="4.2" transform="rotate(25.0 746.6 379.0)" fill="none" stroke="#bbb" stroke-width="1.0"/>
<line x1="338.2" y1="559.8" x2="364.2" y2="530.3" stroke="#000" stroke-width="1.3"/>
<line x1="471.5" y1="616.1" x2="497.5" y2="590.5" stroke="#000" stroke-width="1.3"/>
<line x1="595.2" y1="408.7" x2="620.9" y2="379.7" stroke="#000" stroke-width="1.3"/>
<line x1="737.7" y1="477.5" x2="764.7" y2="451.4" stroke="#000" stroke-width="1.3"/>
<text x="327.6" y="577.0" font-size="18.5" fill="#000">1</text>
<text x="458.5" y="627.5" font-size="18.5" fill="#000">3</text>
<text x="584.5" y="426.5" font-size="18.5" fill="#000">5</text>
<text x="724.2" y="488.8" font-size="18.5" fill="#000">9</text>
</svg>
</body></html>
